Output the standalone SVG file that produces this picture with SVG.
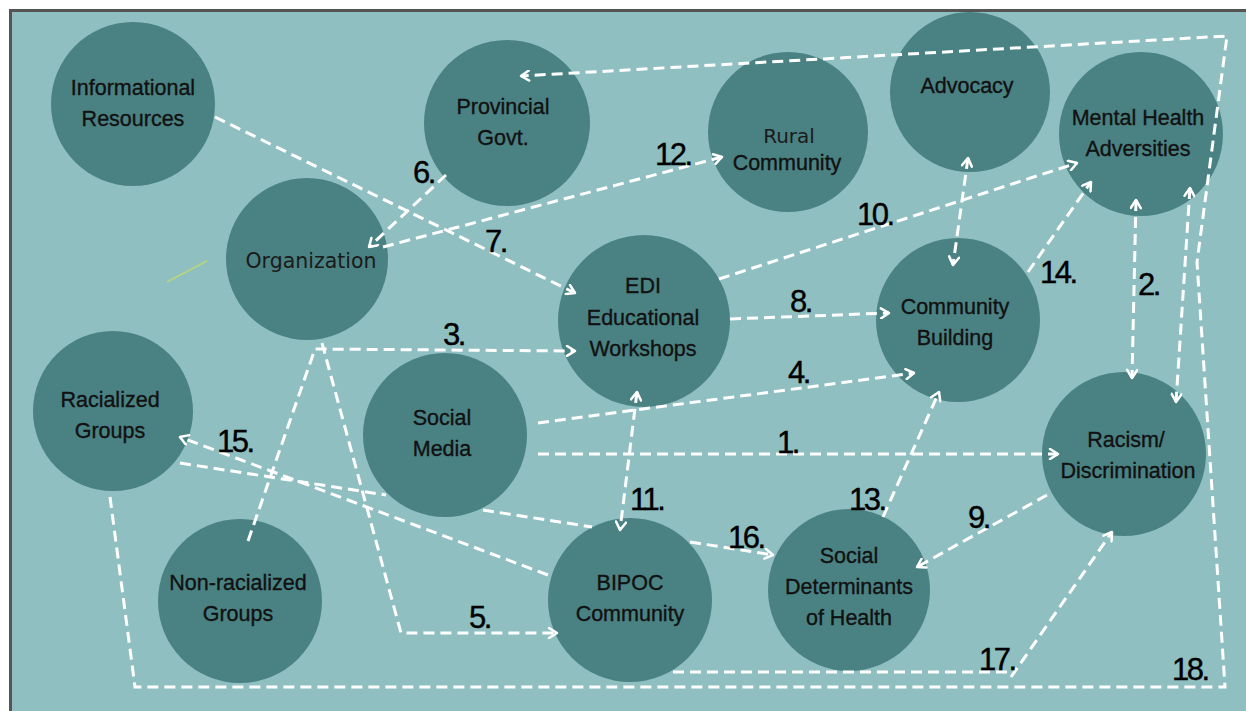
<svg xmlns="http://www.w3.org/2000/svg" width="1246" height="711" viewBox="0 0 1246 711">
<style>
.bg{fill:#8fbfc1;stroke:#555;stroke-width:3}
.node circle{fill:#4a8283}
.lbl{font-family:"Liberation Sans",Arial,sans-serif;font-size:21.5px;fill:#111;stroke:#111;stroke-width:0.35;text-anchor:middle}
.lbl2{font-family:"DejaVu Sans",Verdana,sans-serif;font-size:20px;fill:#1a1a1a;text-anchor:middle}
.num{font-family:"Liberation Sans",Arial,sans-serif;font-size:31px;fill:#000;stroke:#000;stroke-width:0.4;letter-spacing:-2.5px}
.conn path{fill:none;stroke:#fff;stroke-width:3;stroke-dasharray:11 6}
.ae{marker-end:url(#ah)}
.ab{marker-end:url(#ah);marker-start:url(#ah)}
</style>
<defs>
<marker id="ah" viewBox="0 0 12 12" refX="10" refY="6" markerWidth="12" markerHeight="12" markerUnits="userSpaceOnUse" orient="auto-start-reverse">
<path d="M2,1 L10,6 L2,11" fill="none" stroke="#fff" stroke-width="2.5" stroke-linecap="round" stroke-linejoin="round"/>
</marker>
</defs>
<rect class="bg" x="10.5" y="10.5" width="1250" height="710"/>
<line x1="167" y1="282" x2="207" y2="261" stroke="#b8d67e" stroke-width="1.5"/>

<g id="n-info" class="node"><circle cx="133" cy="104" r="82"/><text class="lbl" x="133" y="95">Informational</text><text class="lbl" x="133" y="126">Resources</text></g>
<g id="n-prov" class="node"><circle cx="507" cy="123" r="83"/><text class="lbl" x="503" y="114">Provincial</text><text class="lbl" x="503" y="145">Govt.</text></g>
<g id="n-rural" class="node"><circle cx="788" cy="132" r="80"/><text class="lbl2" x="789" y="143">Rural</text><text class="lbl" x="787" y="170">Community</text></g>
<g id="n-adv" class="node"><circle cx="970" cy="92" r="80"/><text class="lbl" x="967" y="93">Advocacy</text></g>
<g id="n-mh" class="node"><circle cx="1141" cy="134" r="82"/><text class="lbl" x="1138" y="125">Mental Health</text><text class="lbl" x="1138" y="156">Adversities</text></g>
<g id="n-org" class="node"><circle cx="307" cy="259" r="81"/><text class="lbl2" x="311" y="268" style="font-size:20.5px">Organization</text></g>
<g id="n-edi" class="node"><circle cx="644" cy="321" r="86"/><text class="lbl" x="643" y="293">EDI</text><text class="lbl" x="643" y="325">Educational</text><text class="lbl" x="643" y="356">Workshops</text></g>
<g id="n-cb" class="node"><circle cx="958" cy="320" r="82"/><text class="lbl" x="955" y="314">Community</text><text class="lbl" x="955" y="345">Building</text></g>
<g id="n-rac" class="node"><circle cx="113" cy="411" r="80"/><text class="lbl" x="110" y="407">Racialized</text><text class="lbl" x="110" y="438">Groups</text></g>
<g id="n-sm" class="node"><circle cx="445" cy="435" r="82"/><text class="lbl" x="442" y="425">Social</text><text class="lbl" x="442" y="456">Media</text></g>
<g id="n-racism" class="node"><circle cx="1124" cy="454" r="82"/><text class="lbl" x="1126" y="447">Racism/</text><text class="lbl" x="1128" y="478">Discrimination</text></g>
<g id="n-nonrac" class="node"><circle cx="240" cy="601" r="82"/><text class="lbl" x="238" y="590">Non-racialized</text><text class="lbl" x="238" y="621">Groups</text></g>
<g id="n-bipoc" class="node"><circle cx="630" cy="600" r="82"/><text class="lbl" x="630" y="590">BIPOC</text><text class="lbl" x="630" y="621">Community</text></g>
<g id="n-sdh" class="node"><circle cx="849" cy="590" r="81"/><text class="lbl" x="849" y="563">Social</text><text class="lbl" x="849" y="594">Determinants</text><text class="lbl" x="849" y="625">of Health</text></g>

<g id="connectors" class="conn">
<path class="ae" d="M538,454 L1058,454"/>
<path class="ab" d="M1136,200 L1132,378"/>
<path class="ae" d="M248,541 L315,349 L575,351"/>
<path class="ae" d="M538,423 L914,373"/>
<path class="ae" d="M322,343 L401,633 L557,633"/>
<path class="ae" d="M446,175 L369,247"/>
<path class="ae" d="M215,117 L575,293"/>
<path class="ae" d="M730,319 L889,313"/>
<path class="ae" d="M1047,495 L917,567"/>
<path class="ae" d="M719,279 L1077,163"/>
<path class="ab" d="M637,392 L620,530"/>
<path class="ae" d="M383,247 L722,157"/>
<path class="ae" d="M883,517 L939,392"/>
<path class="ae" d="M1028,272 L1091,182"/>
<path class="ae" d="M548,575 L180,437"/>
<path class="ae" d="M690,542 L773,555"/>
<path class="ae" d="M673,672 L1008,672 M1011,677 L1112,532"/>
<path class="ae" d="M110,497 L135,687 L1225,687 L1197,262 L1227,36 L521,76"/>
<path class="ab" d="M968,158 L953,265"/>
<path class="ab" d="M1190,188 L1176,402"/>
<path d="M180,463 L386,495 M483,510 L592,527"/>
</g>

<g id="labels">
<text class="num" x="413" y="183">6.</text>
<text class="num" x="655" y="165">12.</text>
<text class="num" x="485" y="252">7.</text>
<text class="num" x="857" y="225">10.</text>
<text class="num" x="1040" y="283">14.</text>
<text class="num" x="1138" y="295">2.</text>
<text class="num" x="790" y="312">8.</text>
<text class="num" x="443" y="345">3.</text>
<text class="num" x="788" y="383">4.</text>
<text class="num" x="777" y="453">1.</text>
<text class="num" x="217" y="452">15.</text>
<text class="num" x="630" y="510">11.</text>
<text class="num" x="849" y="510">13.</text>
<text class="num" x="968" y="528">9.</text>
<text class="num" x="728" y="548">16.</text>
<text class="num" x="469" y="628">5.</text>
<text class="num" x="979" y="670">17.</text>
<text class="num" x="1172" y="680">18.</text>
</g>
</svg>
